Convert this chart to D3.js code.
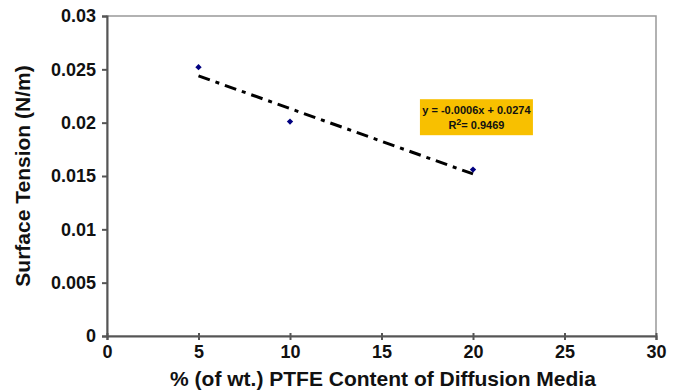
<!DOCTYPE html>
<html>
<head>
<meta charset="utf-8">
<script src="https://cdn.jsdelivr.net/npm/d3@7"></script>
<style>
  body { margin: 0; background: #fff; }
  text { font-family: Arial, "Liberation Sans", sans-serif; font-weight: bold; }
</style>
</head>
<body>
<div id="chart"></div>
<script>
const ptfe = [5, 10, 20];
const tension = [0.0252, 0.0201, 0.0156];
const xTicks = [0, 5, 10, 15, 20, 25, 30];
const yTicks = [0, 0.005, 0.01, 0.015, 0.02, 0.025, 0.03];
const eqLines = ['y = -0.0006x + 0.0274', 'R2= 0.9469'];

const chart = () => {
  const width = 681;
  const height = 392;
  const margin = {top: 16, right: 25, bottom: 56, left: 107};
  const svg = d3.select('#chart')
    .append('svg')
    .attr('width', width)
    .attr('height', height);

  const x = d3.scaleLinear()
    .domain([0, 30])
    .range([margin.left, width - margin.right]);
  const y = d3.scaleLinear()
    .domain([0, 0.03])
    .range([height - margin.bottom, margin.top]);

  // plot area border
  svg.append('rect')
    .attr('x', x(0))
    .attr('y', y(0.03))
    .attr('width', x(30) - x(0))
    .attr('height', y(0) - y(0.03))
    .attr('fill', 'none')
    .attr('stroke', '#999')
    .attr('stroke-width', 1.5);

  const xAxis = svg.append('g')
    .attr('transform', `translate(0,${y(0)})`)
    .call(d3.axisBottom(x).tickValues(xTicks).tickSize(4).tickFormat(d3.format('d')));
  xAxis.selectAll('.tick line').attr('y1', -3);
  xAxis.selectAll('text')
    .attr('dy', '0.95em')
    .attr('y', 5)
    .style('font-size', '18px');

  const yAxis = svg.append('g')
    .attr('transform', `translate(${x(0)},0)`)
    .call(d3.axisLeft(y).tickValues(yTicks).tickSize(5).tickFormat(d => d === 0 ? '0' : String(+d.toFixed(3))));
  yAxis.selectAll('text')
    .attr('x', -11)
    .style('font-size', '18px');

  svg.selectAll('.domain, .tick line')
    .attr('stroke', '#555')
    .attr('stroke-width', 2);
  svg.selectAll('.tick text').attr('fill', '#111');

  // linear trendline from least squares fit
  const mx = d3.mean(ptfe);
  const my = d3.mean(tension);
  const slope = d3.sum(ptfe, (v, i) => (v - mx) * (tension[i] - my)) / d3.sum(ptfe, v => (v - mx) ** 2);
  const icpt = my - slope * mx;
  const xr = d3.extent(ptfe);
  svg.append('line')
    .attr('x1', x(xr[0]))
    .attr('y1', y(icpt + slope * xr[0]))
    .attr('x2', x(xr[1]))
    .attr('y2', y(icpt + slope * xr[1]))
    .attr('stroke', '#000')
    .attr('stroke-width', 3)
    .attr('stroke-dasharray', '12,6,4,6');

  // diamond markers
  svg.append('g')
    .selectAll('path')
    .data(ptfe)
    .join('path')
    .attr('d', d3.symbol(d3.symbolSquare, 20))
    .attr('transform', (d, i) => `translate(${x(d)},${y(tension[i])}) rotate(45)`)
    .attr('fill', '#000080');

  // equation box
  const bx = x(17.1), by = y(0.0222);
  svg.append('rect')
    .attr('x', bx)
    .attr('y', by)
    .attr('width', 113)
    .attr('height', 36)
    .attr('fill', '#F8C000');
  const eq = svg.append('text')
    .attr('text-anchor', 'middle')
    .style('font-size', '11px')
    .attr('fill', '#111');
  eq.append('tspan')
    .attr('x', bx + 56.5)
    .attr('y', by + 15)
    .text(eqLines[0]);
  const l2 = eq.append('tspan')
    .attr('x', bx + 56.5)
    .attr('y', by + 30);
  l2.append('tspan').text('R');
  l2.append('tspan').attr('dy', -4).style('font-size', '9px').text('2');
  l2.append('tspan').attr('dy', 4).text(eqLines[1].slice(2));

  // axis titles
  svg.append('text')
    .attr('x', 383)
    .attr('y', 386)
    .attr('text-anchor', 'middle')
    .style('font-size', '21px')
    .attr('fill', '#111')
    .text('% (of wt.) PTFE Content of Diffusion Media');
  svg.append('text')
    .attr('transform', `translate(30,${(y(0) + y(0.03)) / 2}) rotate(-90)`)
    .attr('text-anchor', 'middle')
    .style('font-size', '21px')
    .attr('fill', '#111')
    .text('Surface Tension (N/m)');
}

chart();
</script>
</body>
</html>
